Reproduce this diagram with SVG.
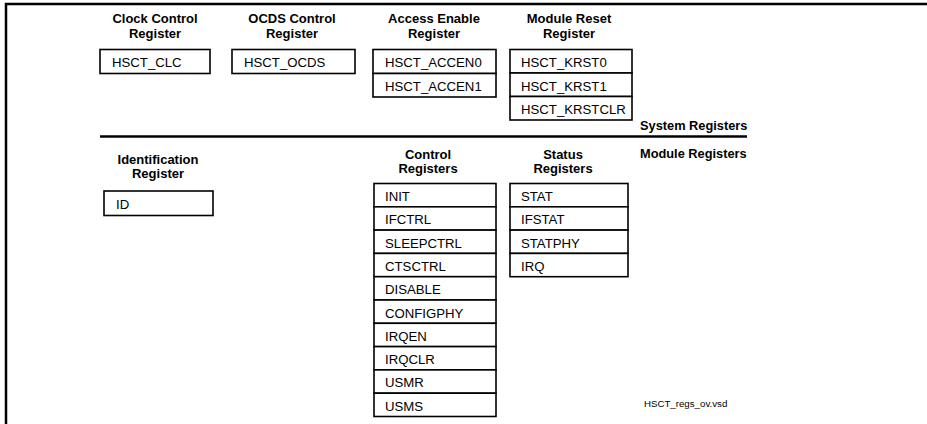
<svg xmlns="http://www.w3.org/2000/svg" width="927" height="424" viewBox="0 0 927 424">
<style>
.bg{fill:#fff}
.frame{stroke:#000;stroke-width:2.5;fill:none}
.box{fill:#fff;stroke:#000;stroke-width:1.6}
.hd{font-family:"Liberation Sans",Arial,sans-serif;font-weight:bold;font-size:13px;fill:#000;text-anchor:middle}
.cell{font-family:"Liberation Sans",Arial,sans-serif;font-size:13.2px;fill:#000}
.sec{font-family:"Liberation Sans",Arial,sans-serif;font-weight:bold;font-size:12.8px;fill:#000}
.foot{font-family:"Liberation Sans",Arial,sans-serif;font-size:9.7px;fill:#000}
</style>
<rect class="bg" x="0" y="0" width="927" height="424"/>
<g id="frame">
<path class="frame" d="M6,426 V4 H929"/>
</g>
<g id="connectors">
<line x1="100" y1="136.5" x2="747" y2="136.5" stroke="#000" stroke-width="2.5"/>
</g>
<g id="section-labels">
<text class="sec" x="640" y="130">System Registers</text>
<text class="sec" x="640" y="158">Module Registers</text>
</g>
<g id="clc">
<text class="hd" x="155" y="23">Clock Control</text>
<text class="hd" x="155" y="38">Register</text>
<rect class="box" x="100" y="49.5" width="110" height="24"/>
<text class="cell" x="112" y="67">HSCT_CLC</text>
</g>
<g id="ocds">
<text class="hd" x="292" y="23">OCDS Control</text>
<text class="hd" x="292" y="38">Register</text>
<rect class="box" x="232" y="49.5" width="123" height="24"/>
<text class="cell" x="244" y="67">HSCT_OCDS</text>
</g>
<g id="accen">
<text class="hd" x="434" y="23">Access Enable</text>
<text class="hd" x="434" y="38">Register</text>
<rect class="box" x="373" y="49.5" width="123" height="24"/>
<rect class="box" x="373" y="73.5" width="123" height="23.5"/>
<text class="cell" x="385" y="67">HSCT_ACCEN0</text>
<text class="cell" x="385" y="91">HSCT_ACCEN1</text>
</g>
<g id="krst">
<text class="hd" x="569" y="23">Module Reset</text>
<text class="hd" x="569" y="38">Register</text>
<rect class="box" x="510" y="49.5" width="122" height="23.5"/>
<rect class="box" x="510" y="73" width="122" height="23.5"/>
<rect class="box" x="510" y="96.5" width="122" height="23.5"/>
<text class="cell" x="521" y="67">HSCT_KRST0</text>
<text class="cell" x="521" y="90.5">HSCT_KRST1</text>
<text class="cell" x="521" y="114">HSCT_KRSTCLR</text>
</g>
<g id="ident">
<text class="hd" x="158" y="164">Identification</text>
<text class="hd" x="158" y="178">Register</text>
<rect class="box" x="104" y="191" width="109" height="24.5"/>
<text class="cell" x="116" y="209">ID</text>
</g>
<g id="control">
<text class="hd" x="428" y="159">Control</text>
<text class="hd" x="428" y="173">Registers</text>
<rect class="box" x="374" y="183.5" width="122" height="23.3"/>
<rect class="box" x="374" y="206.8" width="122" height="23.3"/>
<rect class="box" x="374" y="230.1" width="122" height="23.3"/>
<rect class="box" x="374" y="253.4" width="122" height="23.3"/>
<rect class="box" x="374" y="276.7" width="122" height="23.3"/>
<rect class="box" x="374" y="300" width="122" height="23.3"/>
<rect class="box" x="374" y="323.3" width="122" height="23.3"/>
<rect class="box" x="374" y="346.6" width="122" height="23.3"/>
<rect class="box" x="374" y="369.9" width="122" height="23.3"/>
<rect class="box" x="374" y="393.2" width="122" height="23.3"/>
<text class="cell" x="385" y="201">INIT</text>
<text class="cell" x="385" y="224.3">IFCTRL</text>
<text class="cell" x="385" y="247.6">SLEEPCTRL</text>
<text class="cell" x="385" y="270.9">CTSCTRL</text>
<text class="cell" x="385" y="294.2">DISABLE</text>
<text class="cell" x="385" y="317.5">CONFIGPHY</text>
<text class="cell" x="385" y="340.8">IRQEN</text>
<text class="cell" x="385" y="364.1">IRQCLR</text>
<text class="cell" x="385" y="387.4">USMR</text>
<text class="cell" x="385" y="410.7">USMS</text>
</g>
<g id="status">
<text class="hd" x="563" y="159">Status</text>
<text class="hd" x="563" y="173">Registers</text>
<rect class="box" x="510" y="183.5" width="118" height="23.3"/>
<rect class="box" x="510" y="206.8" width="118" height="23.3"/>
<rect class="box" x="510" y="230.1" width="118" height="23.3"/>
<rect class="box" x="510" y="253.4" width="118" height="23.3"/>
<text class="cell" x="521" y="201">STAT</text>
<text class="cell" x="521" y="224.3">IFSTAT</text>
<text class="cell" x="521" y="247.6">STATPHY</text>
<text class="cell" x="521" y="270.9">IRQ</text>
</g>
<g id="footer">
<text class="foot" x="644" y="407">HSCT_regs_ov.vsd</text>
</g>
</svg>
